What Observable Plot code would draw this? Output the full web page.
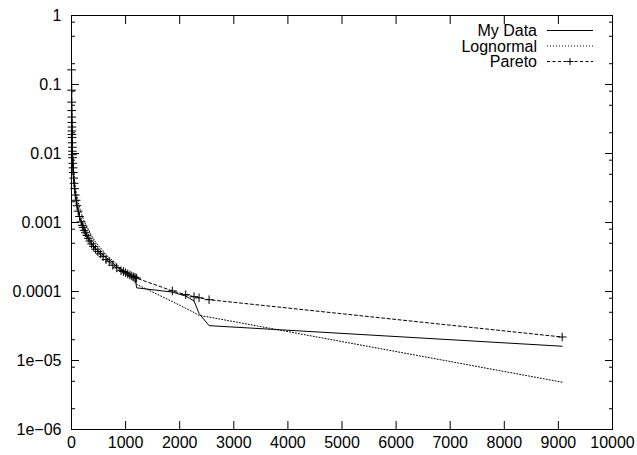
<!DOCTYPE html>
<html><head><meta charset="utf-8">
<script src="https://cdn.jsdelivr.net/npm/d3@7"></script>
<script src="https://cdn.jsdelivr.net/npm/@observablehq/plot@0.6"></script>
<style>body{margin:0;background:#fff} #chart{width:637px;height:455px}</style>
</head><body><div id="chart"></div>
<script>
const xs = [1,2,3,4,5,6,7,8,9,10,12,14,16,18,20,24,28,33,40,48,58,70,85,102,123,148,178,200,214,235,258,283,310,340,372,407,445,487,533,583,638,698,764,836,915,960,1000,1040,1080,1115,1150,1175,1204,1864,2111,2265,2358,2543,9070];
const myData = [0.15,0.085,0.054,0.043,0.033,0.029,0.024,0.021,0.019,0.0168,0.0145,0.0121,0.011,0.0094,0.0088,0.0071,0.0063,0.0052,0.0045,0.0036,0.0032,0.0025,0.0022,0.0017,0.0015,0.0012,0.00105,0.00089,0.00087,0.00076,0.00072,0.00066,0.00058,0.00055,0.0005,0.00046,0.00042,0.00039,0.00037,0.00034,0.00031,0.00029,0.00026,0.00023,0.00021,0.0002,0.00019,0.000185,0.000175,0.00017,0.000165,0.00016,0.000113,0.000098,0.000086,0.000073,0.000048,0.000032,0.0000161];
const lognormal = [0.17,0.09,0.06,0.046,0.037,0.031,0.027,0.024,0.021,0.019,0.016,0.014,0.0125,0.0112,0.0102,0.0088,0.0078,0.0068,0.0057,0.0048,0.0041,0.0034,0.0028,0.0024,0.002,0.00165,0.00138,0.00123,0.00115,0.00104,0.00096,0.00087,0.0008,0.00072,0.00064,0.00058,0.00052,0.00047,0.00043,0.00039,0.00034,0.00031,0.00028,0.00025,0.00021,0.000203,0.000192,0.00017,0.00016,0.00015,0.000142,0.000136,0.000127,0.0000714,0.0000571,0.0000497,0.0000449,0.0000426,0.00000485];
const pareto = [0.163,0.0827,0.0555,0.0419,0.0337,0.0282,0.0242,0.0212,0.0189,0.0171,0.0143,0.0123,0.0108,0.0096,0.0087,0.0072,0.0062,0.0053,0.0044,0.0037,0.0031,0.0025,0.0021,0.00175,0.00146,0.00122,0.00102,0.00091,0.00085,0.00077,0.00071,0.00065,0.00059,0.00054,0.00049,0.00045,0.00041,0.00038,0.00035,0.00032,0.00029,0.00027,0.00024,0.00022,0.0002,0.000195,0.000187,0.00018,0.000173,0.000168,0.000163,0.00016,0.000156,0.000102,0.00009,0.000084,0.000081,0.000076,0.0000219];

const xTicks = [0,1000,2000,3000,4000,5000,6000,7000,8000,9000,10000];
const xTickLabels = ["0","1000","2000","3000","4000","5000","6000","7000","8000","9000","10000"];
const yTicks = [1e-6,1e-5,1e-4,1e-3,1e-2,1e-1,1];
const yTickLabels = ["1e\u221206","1e\u221205","0.0001","0.001","0.01","0.1","1"];
const yMinorTicks = [2e-6,5e-6,8e-6,2e-5,5e-5,8e-5,2e-4,5e-4,8e-4,2e-3,5e-3,8e-3,2e-2,5e-2,8e-2,0.2,0.5,0.8];
const seriesNames = ["My Data","Lognormal","Pareto"];

const rows = xs.map((x, i) => ({x, data: myData[i], logn: lognormal[i], par: pareto[i]}));
const xLabelMap = new Map(xTicks.map((t, i) => [t, xTickLabels[i]]));
const yLabelMap = new Map(yTicks.map((t, i) => [t, yTickLabels[i]]));

const chart = Plot.plot({
  width: 637, height: 455,
  marginLeft: 71, marginRight: 25, marginTop: 15, marginBottom: 26,
  x: {domain: [0, 10000]},
  y: {type: "log", domain: [1e-6, 1]},
  style: {fontFamily: "'Liberation Sans', Arial, Helvetica, sans-serif", fontSize: "16px", color: "black", background: "white", overflow: "visible"},
  marks: [
    Plot.axisX(xTicks, {anchor: "bottom", tickSize: 8, dy: -8, fill: "none", label: null, tickFormat: () => ""}),
    Plot.axisX(xTicks, {anchor: "top", tickSize: 8, dy: 8, fill: "none", label: null, tickFormat: () => ""}),
    Plot.axisX(xTicks, {anchor: "bottom", tickSize: 0, tickPadding: 7, label: null, tickFormat: d => xLabelMap.get(d), fontVariant: "normal"}),
    Plot.axisY(yTicks, {anchor: "left", tickSize: 8, dx: 8, fill: "none", label: null, tickFormat: () => ""}),
    Plot.axisY(yTicks, {anchor: "right", tickSize: 8, dx: -8, fill: "none", label: null, tickFormat: () => ""}),
    Plot.axisY(yMinorTicks, {anchor: "left", tickSize: 4, dx: 4, fill: "none", label: null, tickFormat: () => ""}),
    Plot.axisY(yMinorTicks, {anchor: "right", tickSize: 4, dx: -4, fill: "none", label: null, tickFormat: () => ""}),
    Plot.axisY(yTicks, {anchor: "left", tickSize: 0, tickPadding: 10, label: null, tickFormat: d => yLabelMap.get(d), fontVariant: "normal"}),
    Plot.line(rows, {x: "x", y: "logn", stroke: "black", strokeWidth: 1, strokeDasharray: "1,2"}),
    Plot.line(rows, {x: "x", y: "par", stroke: "black", strokeWidth: 1, strokeDasharray: "3,2.5"}),
    Plot.line(rows, {x: "x", y: "data", stroke: "black", strokeWidth: 1}),
    Plot.dot(rows, {x: "x", y: "par", symbol: "plus", r: 2.9, stroke: "black", strokeWidth: 1}),
    Plot.frame({stroke: "black", strokeWidth: 1})
  ]
});
document.getElementById("chart").appendChild(chart);

// legend (top-right, inside the frame)
const svg = d3.select(chart);
const g = svg.append("g").attr("font-family", "'Liberation Sans', Arial, Helvetica, sans-serif").attr("font-size", 16).attr("fill", "black");
const dashes = [null, "1,2", "3,2.5"];
seriesNames.forEach((name, i) => {
  const cy = 30.5 + i * 15.5;
  g.append("text").attr("x", 537).attr("y", cy + 5.5).attr("text-anchor", "end").text(name);
  const ln = g.append("line").attr("x1", 547).attr("x2", 593).attr("y1", cy).attr("y2", cy).attr("stroke", "black").attr("stroke-width", 1);
  if (dashes[i]) ln.attr("stroke-dasharray", dashes[i]);
  if (i === 2) {
    g.append("path").attr("d", `M566.5,${cy}h7M570,${cy - 3.5}v7`).attr("stroke", "black").attr("fill", "none");
  }
});
</script></body></html>
